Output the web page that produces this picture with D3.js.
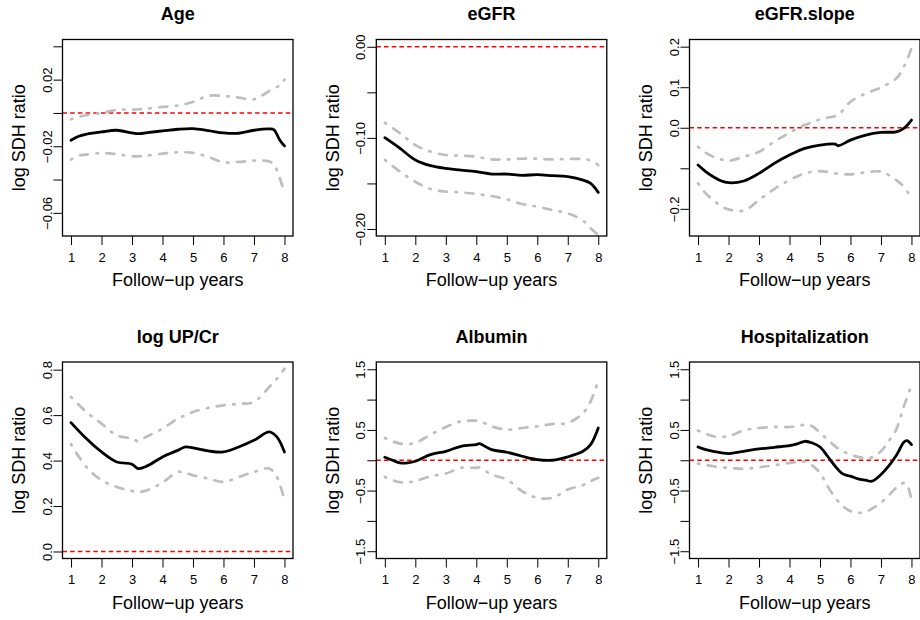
<!DOCTYPE html>
<html>
<head>
<meta charset="utf-8">
<script src="https://cdn.jsdelivr.net/npm/d3@7"></script>
<style>
  html, body { margin: 0; padding: 0; background: #ffffff; }
  svg { display: block; }
  text { font-family: "Liberation Sans", Arial, Helvetica, sans-serif; fill: #000; }
</style>
</head>
<body>
<svg id="chart" width="920" height="620"></svg>
<script>
// Time-varying log subdistribution hazard ratios: estimate with pointwise bands
const xTicks = [1, 2, 3, 4, 5, 6, 7, 8];
const xLabel = "Follow\u2212up years";
const yLabel = "log SDH ratio";

// Age
const ageYears = [1, 1.25, 1.5, 2, 2.5, 3, 3.25, 3.5, 4, 4.5, 5, 5.5, 6, 6.5, 7, 7.5, 7.65, 7.85, 8];
const ageEst   = [-0.0164, -0.014, -0.0128, -0.0114, -0.0104, -0.012, -0.0124, -0.0118, -0.0108, -0.0098, -0.0094, -0.0106, -0.012, -0.0122, -0.0104, -0.0096, -0.01, -0.0164, -0.0198];
const ageUpper = [-0.0038, -0.0024, -0.0014, 0, 0.0018, 0.002, 0.0022, 0.0026, 0.0036, 0.0044, 0.0066, 0.0102, 0.0102, 0.0092, 0.0082, 0.0132, 0.0146, 0.0166, 0.02];
const ageLower = [-0.028, -0.0256, -0.025, -0.024, -0.0248, -0.026, -0.026, -0.0256, -0.0244, -0.0236, -0.024, -0.0264, -0.0296, -0.0294, -0.0286, -0.0292, -0.0308, -0.0394, -0.048];

// eGFR
const egfrYears = [1, 1.5, 2, 2.5, 3, 3.5, 4, 4.5, 5, 5.5, 6, 6.5, 7, 7.5, 7.75, 8];
const egfrEst   = [-0.0998, -0.1115, -0.1243, -0.1305, -0.1335, -0.1353, -0.1371, -0.1397, -0.1397, -0.1411, -0.1404, -0.1415, -0.1426, -0.1463, -0.15, -0.1598];
const egfrUpper = [-0.0834, -0.095, -0.108, -0.115, -0.1188, -0.1196, -0.1207, -0.1236, -0.1236, -0.1229, -0.1229, -0.1236, -0.1232, -0.1232, -0.125, -0.1298];
const egfrLower = [-0.1243, -0.1371, -0.1481, -0.1561, -0.159, -0.1598, -0.1616, -0.1638, -0.1675, -0.1726, -0.1755, -0.1792, -0.1828, -0.1909, -0.1993, -0.2066];

// eGFR.slope
const slopeYears = [1, 1.25, 1.5, 1.75, 2, 2.5, 3, 3.5, 4, 4.5, 5, 5.5, 5.6, 6, 6.5, 7, 7.5, 7.75, 8];
const slopeEst   = [-0.092, -0.108, -0.1207, -0.1306, -0.1355, -0.1314, -0.1125, -0.0879, -0.0674, -0.0509, -0.0427, -0.0402, -0.0444, -0.0304, -0.018, -0.0115, -0.0099, -0.0016, 0.0189];
const slopeUpper = [-0.0468, -0.0616, -0.0715, -0.078, -0.0813, -0.0715, -0.0591, -0.0345, -0.0123, 0.0066, 0.0205, 0.0287, 0.031, 0.0641, 0.0846, 0.0994, 0.1216, 0.1503, 0.1955];
const slopeLower = [-0.1372, -0.1618, -0.1782, -0.193, -0.2012, -0.2045, -0.1782, -0.1511, -0.129, -0.1125, -0.1068, -0.1125, -0.1133, -0.115, -0.11, -0.1084, -0.129, -0.1454, -0.1741];

// log UP/Cr
const upcrYears = [1, 1.5, 2, 2.5, 3, 3.2, 3.5, 4, 4.5, 4.75, 5, 5.5, 6, 6.5, 7, 7.5, 7.75, 8];
const upcrEst   = [0.567, 0.4967, 0.438, 0.394, 0.384, 0.365, 0.3766, 0.416, 0.445, 0.46, 0.456, 0.4425, 0.438, 0.46, 0.489, 0.526, 0.504, 0.438];
const upcrUpper = [0.68, 0.614, 0.5626, 0.511, 0.4967, 0.485, 0.507, 0.5407, 0.5846, 0.599, 0.614, 0.6315, 0.643, 0.65, 0.658, 0.7238, 0.76, 0.804];
const upcrLower = [0.4718, 0.372, 0.3136, 0.284, 0.2667, 0.262, 0.2696, 0.3033, 0.35, 0.346, 0.3355, 0.3209, 0.306, 0.328, 0.35, 0.365, 0.328, 0.2256];

// Albumin
const albYears = [1, 1.25, 1.5, 1.75, 2, 2.5, 3, 3.5, 4, 4.1, 4.5, 5, 5.5, 6, 6.5, 7, 7.5, 7.75, 8];
const albEst   = [0.049, 0, -0.044, -0.044, -0.016, 0.093, 0.148, 0.23, 0.258, 0.274, 0.1755, 0.132, 0.066, 0.011, 0, 0.055, 0.148, 0.258, 0.532];
const albUpper = [0.3675, 0.313, 0.274, 0.269, 0.285, 0.422, 0.5485, 0.642, 0.653, 0.65, 0.5595, 0.5047, 0.532, 0.5595, 0.598, 0.614, 0.779, 0.971, 1.3165];
const albLower = [-0.274, -0.329, -0.362, -0.362, -0.3456, -0.263, -0.219, -0.126, -0.126, -0.12, -0.236, -0.318, -0.51, -0.62, -0.62, -0.483, -0.411, -0.3456, -0.29];

// Hospitalization
const hospYears = [1, 1.25, 1.5, 2, 2.5, 3, 3.5, 4, 4.25, 4.5, 4.75, 5, 5.25, 5.5, 5.75, 6, 6.25, 6.5, 6.7, 7, 7.25, 7.5, 7.75, 7.85, 8];
const hospEst   = [0.219, 0.1755, 0.148, 0.11, 0.148, 0.1865, 0.214, 0.241, 0.269, 0.3127, 0.285, 0.219, 0.066, -0.0987, -0.225, -0.263, -0.307, -0.329, -0.346, -0.236, -0.0987, 0.077, 0.296, 0.324, 0.258];
const hospUpper = [0.488, 0.439, 0.395, 0.395, 0.494, 0.532, 0.5485, 0.5485, 0.5595, 0.587, 0.5595, 0.45, 0.34, 0.23, 0.148, 0.093, 0.055, 0.038, 0.049, 0.148, 0.313, 0.5047, 0.8886, 1.026, 1.245];
const hospLower = [-0.055, -0.077, -0.0987, -0.126, -0.1426, -0.115, -0.082, -0.044, -0.027, -0.022, -0.088, -0.2085, -0.428, -0.62, -0.757, -0.839, -0.867, -0.85, -0.8, -0.702, -0.581, -0.455, -0.373, -0.4, -0.647];

// Panel titles, y-axis ranges, tick positions and tick labels
const titles = ["Age", "eGFR", "eGFR.slope", "log UP/Cr", "Albumin", "Hospitalization"];
const yDomains = [[-0.0739, 0.0441], [-0.2077, 0.008], [-0.267, 0.2177], [-0.0308, 0.8337], [-1.62, 1.62], [-1.62, 1.62]];
const yTicks = [
  [-0.06, -0.04, -0.02, 0, 0.02, 0.04],
  [-0.20, -0.15, -0.10, -0.05, 0],
  [-0.2, -0.1, 0, 0.1, 0.2],
  [0, 0.2, 0.4, 0.6, 0.8],
  [-1.5, -1, -0.5, 0, 0.5, 1, 1.5],
  [-1.5, -1, -0.5, 0, 0.5, 1, 1.5]
];
const yTickLabels = [
  ["\u22120.06", "", "\u22120.02", "", "0.02", ""],
  ["\u22120.20", "", "\u22120.10", "", "0.00"],
  ["\u22120.2", "", "0.0", "0.1", "0.2"],
  ["0.0", "0.2", "0.4", "0.6", "0.8"],
  ["\u22121.5", "", "\u22120.5", "", "0.5", "", "1.5"],
  ["\u22121.5", "", "\u22120.5", "", "0.5", "", "1.5"]
];

const panelData = [
  { years: ageYears, est: ageEst, lo: ageLower, hi: ageUpper },
  { years: egfrYears, est: egfrEst, lo: egfrLower, hi: egfrUpper },
  { years: slopeYears, est: slopeEst, lo: slopeLower, hi: slopeUpper },
  { years: upcrYears, est: upcrEst, lo: upcrLower, hi: upcrUpper },
  { years: albYears, est: albEst, lo: albLower, hi: albUpper },
  { years: hospYears, est: hospEst, lo: hospLower, hi: hospUpper }
];

// Layout of the 2 x 3 grid of plot boxes
const boxLefts = [62.5, 376.3, 689.5];
const boxTops = [39.5, 362];
const boxW = 230.5, boxH = 196.5;

const svg = d3.select("#chart");

panelData.forEach((p, i) => {
  const col = i % 3, row = Math.floor(i / 3);
  const g = svg.append("g").attr("transform", `translate(${boxLefts[col]},${boxTops[row]})`);

  const x = d3.scaleLinear().domain([0.72, 8.28]).range([0, boxW]);
  const y = d3.scaleLinear().domain(yDomains[i]).range([boxH, 0]);

  const clipId = "clip" + i;
  g.append("clipPath").attr("id", clipId)
    .append("rect").attr("width", boxW).attr("height", boxH);

  const plot = g.append("g").attr("clip-path", `url(#${clipId})`);

  // reference line at zero
  plot.append("line")
    .attr("x1", 0).attr("x2", boxW)
    .attr("y1", y(0)).attr("y2", y(0))
    .attr("stroke", "#ff0000").attr("stroke-width", 1.5)
    .attr("stroke-dasharray", "4.5 3.2");

  const line = (vals) => d3.line()
    .x((d, k) => x(p.years[k]))
    .y(d => y(d))
    .curve(d3.curveCatmullRom.alpha(0.5))(vals);

  // pointwise bands
  [p.lo, p.hi].forEach(vals => {
    plot.append("path")
      .attr("d", line(vals))
      .attr("fill", "none")
      .attr("stroke", "#bebebe")
      .attr("stroke-width", 2.7)
      .attr("stroke-linecap", "round")
      .attr("stroke-linejoin", "round")
      .attr("stroke-dasharray", "1.5 8.5 8 8.5");
  });

  // estimate
  plot.append("path")
    .attr("d", line(p.est))
    .attr("fill", "none")
    .attr("stroke", "#000")
    .attr("stroke-width", 2.8)
    .attr("stroke-linecap", "round")
    .attr("stroke-linejoin", "round");

  // x axis
  const xa = g.append("g").attr("transform", `translate(0,${boxH})`)
    .call(d3.axisBottom(x).tickValues(xTicks).tickFormat(d3.format("d")).tickSize(9).tickSizeOuter(0));
  xa.select(".domain").remove();
  xa.selectAll(".tick line").attr("stroke", "#000").attr("stroke-width", 1);
  xa.selectAll(".tick text")
    .attr("y", 25.5).attr("dy", null)
    .attr("font-size", 13);

  // y axis with labels rotated along the axis
  const labels = yTickLabels[i];
  const ya = g.append("g")
    .call(d3.axisLeft(y).tickValues(yTicks[i]).tickFormat((d, k) => labels[k]).tickSize(9).tickSizeOuter(0));
  ya.select(".domain").remove();
  ya.selectAll(".tick line").attr("stroke", "#000").attr("stroke-width", 1);
  ya.selectAll(".tick text")
    .attr("transform", "rotate(-90)")
    .attr("x", 0).attr("y", -11).attr("dy", null)
    .attr("text-anchor", "middle")
    .attr("font-size", 13);

  // plot box
  g.append("rect")
    .attr("width", boxW).attr("height", boxH)
    .attr("fill", "none").attr("stroke", "#000").attr("stroke-width", 1.3);

  // title and axis titles
  g.append("text")
    .attr("x", boxW / 2).attr("y", -19.5)
    .attr("text-anchor", "middle")
    .attr("font-size", 18).attr("font-weight", "bold")
    .text(titles[i]);

  g.append("text")
    .attr("x", boxW / 2).attr("y", boxH + 50.3)
    .attr("text-anchor", "middle")
    .attr("font-size", 18)
    .text(xLabel);

  g.append("text")
    .attr("transform", `translate(-37.5,${boxH / 2}) rotate(-90)`)
    .attr("text-anchor", "middle")
    .attr("font-size", 18)
    .text(yLabel);
});
</script>
</body>
</html>
